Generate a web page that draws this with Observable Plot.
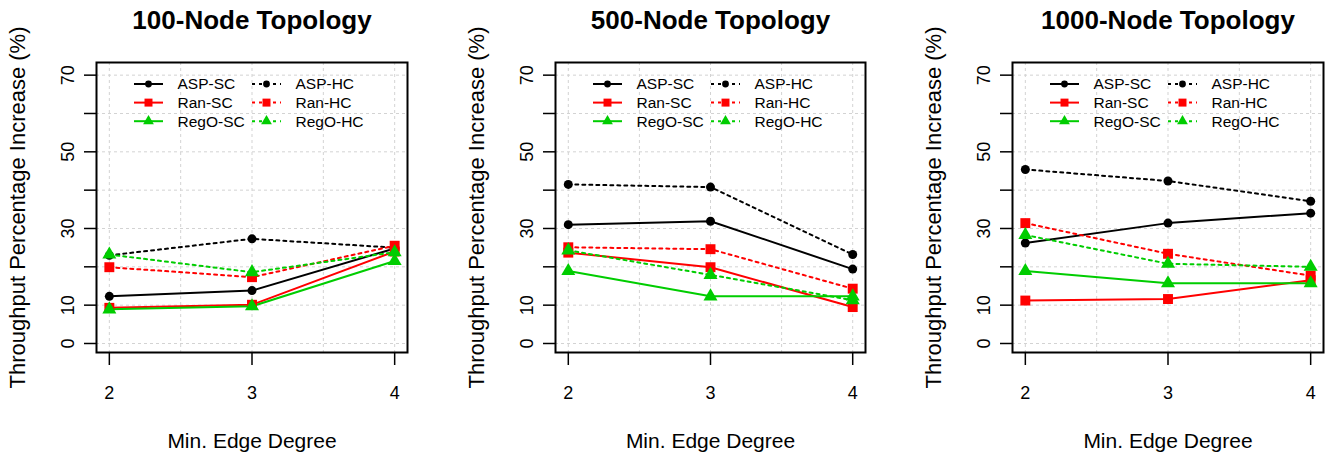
<!DOCTYPE html>
<html>
<head>
<meta charset="utf-8">
<script src="https://cdn.jsdelivr.net/npm/d3@7"></script>
<script src="https://cdn.jsdelivr.net/npm/@observablehq/plot@0.6"></script>
<style>
  body { margin: 0; background: #fff; }
  #row { display: flex; width: 1332px; height: 459px; }
  #row svg { flex: 0 0 auto; }
</style>
</head>
<body>
<div id="row"></div>
<script>
// ---------- data ----------
const degrees = [2, 3, 4];
const seriesNames = ["ASP-SC", "Ran-SC", "RegO-SC", "ASP-HC", "Ran-HC", "RegO-HC"];
const algoNames = ["ASP", "Ran", "RegO"];
const panelTitles = ["100-Node Topology", "500-Node Topology", "1000-Node Topology"];
const yTicks = [0, 10, 20, 30, 40, 50, 60, 70];
const yTickLabels = [0, 10, 30, 50, 70];
const xGridTicks = [2, 2.5, 3, 3.5, 4];
const xTitle = "Min. Edge Degree";
const yTitle = "Throughput Percentage Increase (%)";

// values per series (order = seriesNames), at degrees 2, 3, 4
const node100 = [
  [12.3, 13.8, 24.8],
  [9.3, 10.1, 24.0],
  [8.9, 9.7, 21.5],
  [23.0, 27.3, 25.0],
  [19.9, 17.3, 25.5],
  [23.2, 18.6, 23.8]
];
const node500 = [
  [31.0, 31.9, 19.4],
  [23.7, 19.9, 9.5],
  [18.9, 12.3, 12.3],
  [41.5, 40.8, 23.2],
  [25.1, 24.6, 14.3],
  [24.3, 17.9, 11.3]
];
const node1000 = [
  [26.2, 31.4, 34.0],
  [11.2, 11.6, 16.5],
  [18.9, 15.7, 15.7],
  [45.4, 42.4, 37.1],
  [31.4, 23.4, 17.7],
  [28.3, 20.8, 20.0]
];

// ---------- style ----------
const FONT = "'Liberation Sans', Arial, sans-serif";
const algoColors = ["#000000", "#ff0000", "#00cd00"];
const algoSymbols = ["circle", "square", "triangle"];
const algoR = [4.5, 5.6, 5.2];
const legendR = [3.4, 4.5, 4.0];
const DASH = "3,4";

function legendMark(index, scales, values, dims) {
  const g = d3.create("svg:g").attr("font-family", FONT).attr("font-size", 15.5).attr("text-anchor", "start");
  const x0 = dims.marginLeft, y0 = dims.marginTop;
  seriesNames.forEach((name, i) => {
    const col = Math.floor(i / 3), row = i % 3;
    const a = row;
    const segX1 = x0 + (col ? 156 : 38), segX2 = segX1 + 29;
    const cx = (segX1 + segX2) / 2;
    const cy = y0 + 22 + row * 18.6;
    g.append("line")
      .attr("x1", segX1).attr("x2", segX2).attr("y1", cy).attr("y2", cy)
      .attr("stroke", algoColors[a]).attr("stroke-width", 2)
      .attr("stroke-dasharray", col ? DASH : null);
    const sym = {circle: d3.symbolCircle, square: d3.symbolSquare, triangle: d3.symbolTriangle}[algoSymbols[a]];
    g.append("path")
      .attr("d", d3.symbol(sym, Math.PI * legendR[a] * legendR[a])())
      .attr("transform", `translate(${cx},${cy})`)
      .attr("fill", algoColors[a]);
    g.append("text")
      .attr("x", x0 + (col ? 199.5 : 81.5)).attr("y", cy).attr("dy", "0.35em")
      .attr("fill", "#000")
      .text(name);
  });
  return g.node();
}

function panel(title, vals, mL, mR) {
  const rows = [];
  seriesNames.forEach((s, i) => {
    vals[i].forEach((v, j) => rows.push({series: s, algo: algoNames[i % 3], hc: i >= 3, x: degrees[j], y: v}));
  });
  const sc = rows.filter(d => !d.hc), hc = rows.filter(d => d.hc);
  const dotMarks = algoNames.map((a, k) =>
    Plot.dot(rows.filter(d => d.algo === a), {
      x: "x", y: "y", symbol: algoSymbols[k], r: algoR[k], fill: algoColors[k], stroke: "none"
    })
  );
  return Plot.plot({
    width: 444, height: 459,
    marginTop: 62, marginBottom: 107, marginLeft: mL, marginRight: mR,
    x: {domain: [1.91, 4.09]},
    y: {domain: [-2.35, 73.3]},
    color: {domain: algoNames, range: algoColors},
    style: {fontFamily: FONT, background: "white", color: "black", overflow: "visible"},
    marks: [
      Plot.gridY(yTicks, {stroke: "#d3d3d3", strokeOpacity: 1, strokeDasharray: "3,3"}),
      Plot.gridX(xGridTicks, {stroke: "#d3d3d3", strokeOpacity: 1, strokeDasharray: "3,3"}),
      Plot.line(sc, {x: "x", y: "y", z: "series", stroke: "algo", strokeWidth: 2}),
      Plot.line(hc, {x: "x", y: "y", z: "series", stroke: "algo", strokeWidth: 2, strokeDasharray: DASH}),
      ...dotMarks,
      legendMark,
      Plot.frame({stroke: "black", strokeWidth: 2}),
      Plot.axisX(degrees, {tickSize: 13, tickPadding: 21, fontSize: 18, strokeWidth: 1.5, label: null,
        tickFormat: d => String(d)}),
      Plot.axisY(yTicks, {tickSize: 12, tickPadding: 11, tickRotate: -90, fontSize: 18, strokeWidth: 1.5,
        tickFormat: d => yTickLabels.includes(d) ? String(d) : "", label: null}),
      Plot.text([title], {frameAnchor: "top", dy: -34, lineAnchor: "bottom", fontSize: 26, fontWeight: "bold", text: d => d}),
      Plot.text([xTitle], {frameAnchor: "bottom", dy: 95, lineAnchor: "bottom", fontSize: 21, text: d => d}),
      Plot.text([yTitle], {frameAnchor: "left", dx: -87, rotate: -90, lineAnchor: "top", textAnchor: "middle", fontSize: 22, text: d => d})
    ]
  });
}

const row = document.getElementById("row");
row.append(panel(panelTitles[0], node100, 96, 37));
row.append(panel(panelTitles[1], node500, 111, 23));
row.append(panel(panelTitles[2], node1000, 124, 9));
</script>
</body>
</html>
